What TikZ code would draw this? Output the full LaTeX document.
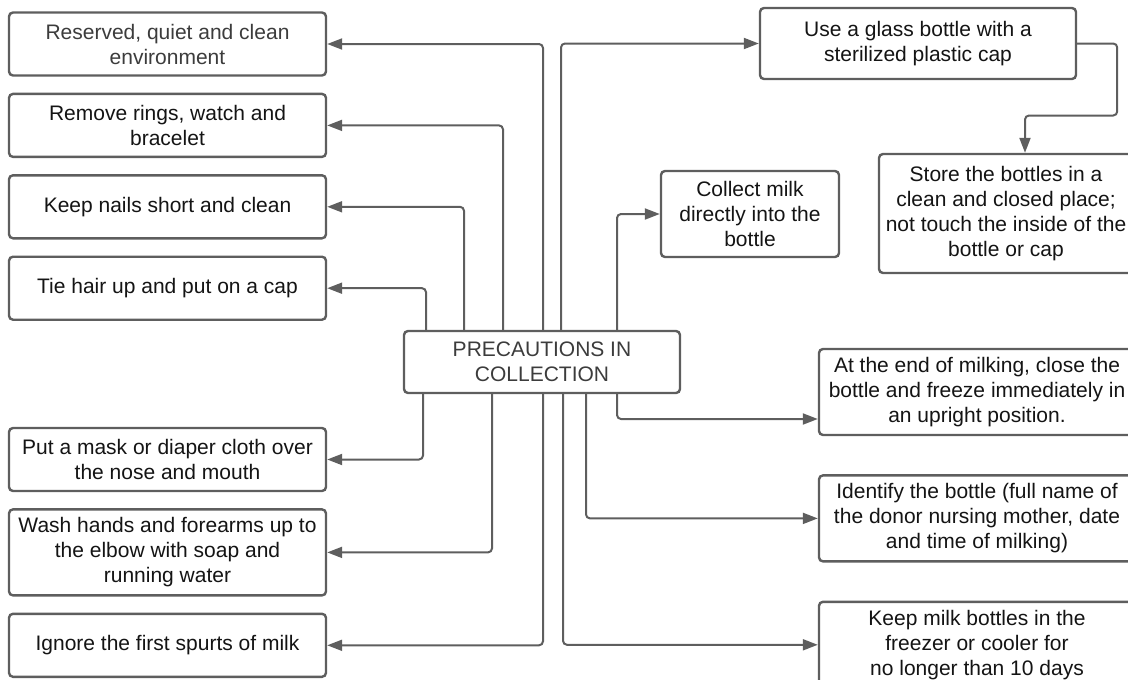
\documentclass[tikz,border=0pt]{standalone}
\usepackage{fontspec}
\setmainfont{Liberation Sans}
\usetikzlibrary{positioning,arrows.meta}
\definecolor{edgegray}{HTML}{5E5E5E}
\definecolor{inkgray}{HTML}{141414}
\definecolor{softink}{HTML}{3C3C3C}

\begin{document}
\begin{tikzpicture}[
x=1pt, y=-1pt,
card/.style={
  draw=edgegray,
  line width=2.4pt,
  rounded corners=4pt,
  fill=white,
  align=center,
  text=inkgray,
  inner sep=0pt,
  font=\fontsize{21}{25}\selectfont
  },
wide/.style={
  card,
  minimum width=317pt,
  minimum height=63pt
  },
link/.style={
  draw=edgegray,
  line width=2pt,
  rounded corners=4pt,
  ->
  },
node distance=16pt,
>={Triangle[length=15pt,width=11pt]}
]
\useasboundingbox (0,0) rectangle (1128,680);
\clip (0,0) rectangle (1128,680);

% left column
\node[wide, text=softink] (quiet) at (167.5,44) {Reserved, quiet and clean\\environment};
\node[wide, below=of quiet] (rings) {Remove rings, watch and\\bracelet};
\node[wide, below=of rings] (nails) {Keep nails short and clean};
\node[wide, below=of nails] (hair) {Tie hair up and put on a cap};
\node[wide] (mask) at (167.5,459.5) {Put a mask or diaper cloth over\\the nose and mouth};
\node[wide, below=of mask, minimum height=86pt] (wash) {Wash hands and forearms up to\\the elbow with soap and\\running water};
\node[wide, below=of wash] (spurts) {Ignore the first spurts of milk};

% centre
\node[card, text=softink, minimum width=276pt, minimum height=62pt] (main) at (542,362) {PRECAUTIONS IN\\COLLECTION};

% right column
\node[card, minimum width=316pt, minimum height=71pt] (glass) at (918,43.5) {Use a glass bottle with a\\sterilized plastic cap};
\node[card, minimum width=254pt, minimum height=119pt] (store) at (1006,213.5) {Store the bottles in a\\clean and closed place;\\not touch the inside of the\\bottle or cap};
\node[card, minimum width=178pt, minimum height=86pt] (collect) at (750,214) {Collect milk\\directly into the\\bottle};
\node[card, minimum width=316pt, minimum height=86pt] (upright) at (977,392) {At the end of milking, close the\\bottle and freeze immediately in\\an upright position.};
\node[card, minimum width=316pt, minimum height=86pt, below=38pt of upright] (tag) {Identify the bottle (full name of\\the donor nursing mother, date\\and time of milking)};
\node[card, minimum width=316pt, minimum height=86pt, below=38pt of tag] (keep) {Keep milk bottles in the\\freezer or cooler for\\no longer than 10 days};

% upper lines
\foreach \dx/\dest in {-116/hair, -78/nails, -39/rings, 1/quiet}
  \draw[link] ([xshift=\dx pt]main.north) |- (\dest.east);
\draw[link] ([xshift=19pt]main.north) |- (glass.west);
\draw[link] ([xshift=75pt]main.north) |- (collect.west);

% lower lines
\foreach \dx/\dest in {-119/mask, -50/wash, 1/spurts}
  \draw[link] ([xshift=\dx pt]main.south) |- (\dest.east);
\draw[link] ([xshift=21pt]main.south) |- (keep.west);
\draw[link] ([xshift=44pt]main.south) |- (tag.west);
\draw[link] ([xshift=75pt]main.south) |- ([yshift=-27pt]upright.west);

% bottle to storage
\draw[link] (glass.east) -- ++(40,0) -- ++(0,72) -| ([xshift=19pt]store.north);
\end{tikzpicture}
\end{document}
